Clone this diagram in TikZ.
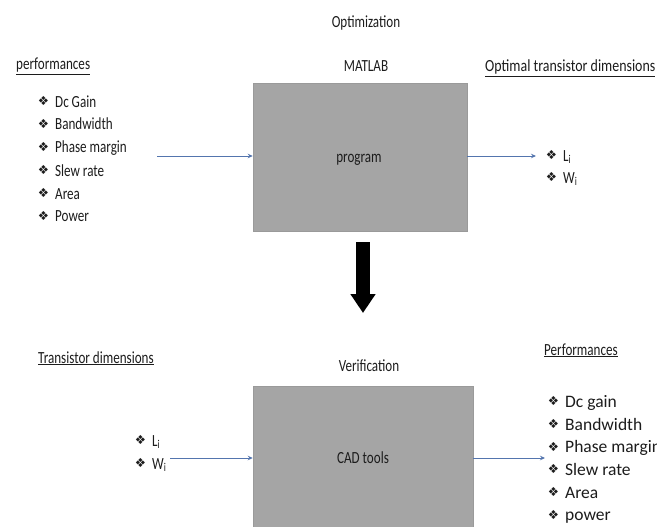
\documentclass[tikz,border=0pt]{standalone}
\usepackage{fontspec}
\setmainfont{Carlito}[FakeStretch=0.77]
\newfontfamily\semiwide{Carlito}[FakeStretch=0.82]
\newfontfamily\fullwide{Carlito}
\newfontfamily\symfont{DejaVu Sans}
\usetikzlibrary{arrows.meta}
\definecolor{txt}{HTML}{1C1C1C}
\definecolor{boxgray}{HTML}{A5A5A5}
\definecolor{boxedge}{HTML}{9A9A9A}
\definecolor{arr}{HTML}{5475AE}
\newcommand{\bul}{\llap{\raisebox{1.2pt}{\symfont\fontsize{12.5}{12.5}\selectfont\char"2756}\hspace{6pt}}}
\tikzset{
  lbl/.style={font=\fontsize{17}{20}\selectfont, text=txt, inner sep=0pt},
  item/.style={lbl, anchor=base west},
  witem/.style={item, font=\fullwide\fontsize{17.5}{20}\selectfont},
  head/.style={lbl, anchor=base west},
  title/.style={lbl, anchor=base},
  block/.style={fill=boxgray, draw=boxedge, line width=0.5pt, inner sep=0pt},
  conn/.style={draw=arr, line width=0.9pt, -{Stealth[length=5pt,width=4.5pt]}},
  bigarrow/.style={draw=black, line width=14pt, -{Triangle[length=19pt,width=24pt]}}
}
\begin{document}
\begin{tikzpicture}[x=1pt,y=-1pt]
\useasboundingbox (0,0) rectangle (657,527);

% top part
\node[title] (opt) at (366,28) {Optimization};
\node[title] (matlab) at (366,72) {MATLAB};
\node[head] (perf) at (16,70) {\underline{performances}};
\node[head, font=\semiwide\fontsize{17}{20}\selectfont] (otd) at (485,72) {\underline{Optimal transistor dimensions}};

\node[block, minimum width=214pt, minimum height=148pt] (prog) at (360,157) {};
\node[title] (progtxt) at (359,163) {program};

\node[item] (p1) at (55,107) {\bul Dc Gain};
\node[item] (p2) at (55,130) {\bul Bandwidth};
\node[item] (p3) at (55,153) {\bul Phase margin};
\node[item] (p4) at (55,176) {\bul Slew rate};
\node[item] (p5) at (55,199) {\bul Area};
\node[item] (p6) at (55,222) {\bul Power};

\node[item] (tl) at (563,161) {\bul L\textsubscript{i}};
\node[item] (tw) at (563,183) {\bul W\textsubscript{i}};

\coordinate (in1) at (157,156);
\coordinate (out1) at (536,156);
\draw[conn] (in1) -- (in1 -| prog.west);
\draw[conn] (prog.east |- out1) -- (out1);

% big arrow
\coordinate (bstart) at (363,242);
\coordinate (bend) at (363,313);
\draw[bigarrow] (bstart) -- (bend);

% bottom part
\node[head] (td) at (38,363) {\underline{Transistor dimensions}};
\node[title] (ver) at (369,371) {Verification};
\node[head] (perf2) at (544,355) {\underline{Performances}};

\node[block, minimum width=220pt, minimum height=144pt] (cad) at (363,458) {};
\node[title] (cadtxt) at (363,463) {CAD tools};

\node[item] (bl) at (152,446) {\bul L\textsubscript{i}};
\node[item] (bw) at (152,469) {\bul W\textsubscript{i}};

\node[witem] (q1) at (565,407) {\bul Dc gain};
\node[witem] (q2) at (565,430) {\bul Bandwidth};
\node[witem] (q3) at (565,452.5) {\bul Phase margin};
\node[witem] (q4) at (565,475) {\bul Slew rate};
\node[witem] (q5) at (565,498) {\bul Area};
\node[witem] (q6) at (565,520.5) {\bul power};

\coordinate (in2) at (170,458);
\coordinate (out2) at (545,458);
\draw[conn] (in2) -- (in2 -| cad.west);
\draw[conn] (cad.east |- out2) -- (out2);
\end{tikzpicture}
\end{document}
